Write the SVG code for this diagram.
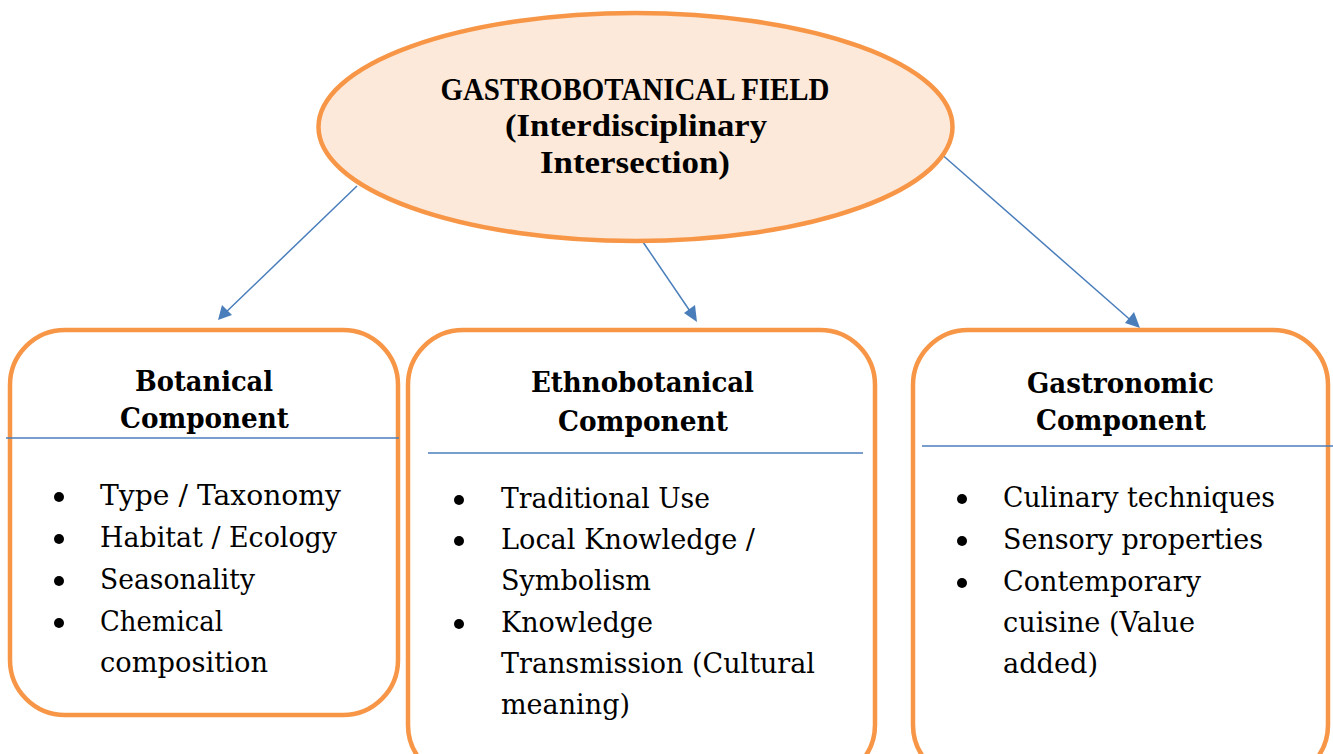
<svg xmlns="http://www.w3.org/2000/svg" width="1333" height="754" viewBox="0 0 1333 754">
  <style>
    .box { fill: #ffffff; stroke: #F79646; stroke-width: 4.5; }
    .root { fill: #FDE9D9; stroke: #F79646; stroke-width: 4.5; }
    .rule { stroke: #4A7EBB; stroke-width: 1.5; }
    .link { stroke: #4A7EBB; stroke-width: 1.5; fill: none; }
    .tip { fill: #4A7EBB; }
    .title { font-family: "Liberation Serif", "DejaVu Serif", serif; font-weight: bold; font-size: 31px; fill: #000; text-anchor: middle; }
    .head { font-family: "DejaVu Serif", "Liberation Serif", serif; font-weight: bold; font-size: 28px; fill: #000; text-anchor: middle; }
    .item { font-family: "DejaVu Serif", "Liberation Serif", serif; font-size: 28px; fill: #000; }
    .dot { fill: #000; }
  </style>

  <!-- connectors -->
  <g id="connectors">
    <line class="link" x1="357" y1="186" x2="222" y2="316"/>
    <path class="tip" d="M218,320 L222,305 L232,315 z"/>
    <line class="link" x1="643" y1="242" x2="694" y2="317"/>
    <path class="tip" d="M697,322 L684,313 L695,305 z"/>
    <line class="link" x1="939" y1="152" x2="1135" y2="324"/>
    <path class="tip" d="M1140,328 L1125,323 L1134,312 z"/>
  </g>

  <!-- central field -->
  <g id="field">
    <ellipse class="root" cx="635.5" cy="127" rx="317" ry="114"/>
    <text class="title" x="635" y="100" textLength="389" lengthAdjust="spacingAndGlyphs">GASTROBOTANICAL FIELD</text>
    <text class="title" x="636" y="136" textLength="262" lengthAdjust="spacingAndGlyphs">(Interdisciplinary</text>
    <text class="title" x="635" y="173" textLength="190" lengthAdjust="spacingAndGlyphs">Intersection)</text>
  </g>

  <!-- botanical component -->
  <g id="botanical">
    <rect class="box" x="10" y="330" width="388" height="385" rx="55" ry="55"/>
    <text class="head" x="204" y="391" textLength="138" lengthAdjust="spacingAndGlyphs">Botanical</text>
    <text class="head" x="204.5" y="428" textLength="169" lengthAdjust="spacingAndGlyphs">Component</text>
    <line class="rule" x1="6" y1="438" x2="399" y2="438"/>
    <circle class="dot" cx="59" cy="497" r="5"/>
    <circle class="dot" cx="59" cy="539" r="5"/>
    <circle class="dot" cx="59" cy="581" r="5"/>
    <circle class="dot" cx="59" cy="623" r="5"/>
    <text class="item" x="100" y="505" textLength="241" lengthAdjust="spacingAndGlyphs">Type / Taxonomy</text>
    <text class="item" x="100" y="547" textLength="237" lengthAdjust="spacingAndGlyphs">Habitat / Ecology</text>
    <text class="item" x="100" y="589" textLength="155" lengthAdjust="spacingAndGlyphs">Seasonality</text>
    <text class="item" x="100" y="631" textLength="123" lengthAdjust="spacingAndGlyphs">Chemical</text>
    <text class="item" x="100" y="672" textLength="168" lengthAdjust="spacingAndGlyphs">composition</text>
  </g>

  <!-- ethnobotanical component -->
  <g id="ethnobotanical">
    <rect class="box" x="408" y="330" width="467" height="450" rx="55" ry="55"/>
    <text class="head" x="642.5" y="392" textLength="223" lengthAdjust="spacingAndGlyphs">Ethnobotanical</text>
    <text class="head" x="643" y="431" textLength="170" lengthAdjust="spacingAndGlyphs">Component</text>
    <line class="rule" x1="428" y1="453" x2="863" y2="453"/>
    <circle class="dot" cx="459" cy="500" r="5"/>
    <circle class="dot" cx="459" cy="541" r="5"/>
    <circle class="dot" cx="459" cy="624" r="5"/>
    <text class="item" x="501" y="508" textLength="209" lengthAdjust="spacingAndGlyphs">Traditional Use</text>
    <text class="item" x="501" y="549" textLength="254" lengthAdjust="spacingAndGlyphs">Local Knowledge /</text>
    <text class="item" x="501" y="590" textLength="150" lengthAdjust="spacingAndGlyphs">Symbolism</text>
    <text class="item" x="501" y="632" textLength="152" lengthAdjust="spacingAndGlyphs">Knowledge</text>
    <text class="item" x="501" y="673" textLength="314" lengthAdjust="spacingAndGlyphs">Transmission (Cultural</text>
    <text class="item" x="501" y="714" textLength="129" lengthAdjust="spacingAndGlyphs">meaning)</text>
  </g>

  <!-- gastronomic component -->
  <g id="gastronomic">
    <rect class="box" x="913" y="330" width="415" height="450" rx="55" ry="55"/>
    <text class="head" x="1120.5" y="393" textLength="187" lengthAdjust="spacingAndGlyphs">Gastronomic</text>
    <text class="head" x="1121" y="430" textLength="170" lengthAdjust="spacingAndGlyphs">Component</text>
    <line class="rule" x1="922" y1="446" x2="1333" y2="446"/>
    <circle class="dot" cx="962" cy="499" r="5"/>
    <circle class="dot" cx="962" cy="541" r="5"/>
    <circle class="dot" cx="962" cy="583" r="5"/>
    <text class="item" x="1003" y="507" textLength="272" lengthAdjust="spacingAndGlyphs">Culinary techniques</text>
    <text class="item" x="1003" y="549" textLength="260" lengthAdjust="spacingAndGlyphs">Sensory properties</text>
    <text class="item" x="1003" y="591" textLength="198" lengthAdjust="spacingAndGlyphs">Contemporary</text>
    <text class="item" x="1003" y="632" textLength="192" lengthAdjust="spacingAndGlyphs">cuisine (Value</text>
    <text class="item" x="1003" y="673" textLength="95" lengthAdjust="spacingAndGlyphs">added)</text>
  </g>
</svg>
